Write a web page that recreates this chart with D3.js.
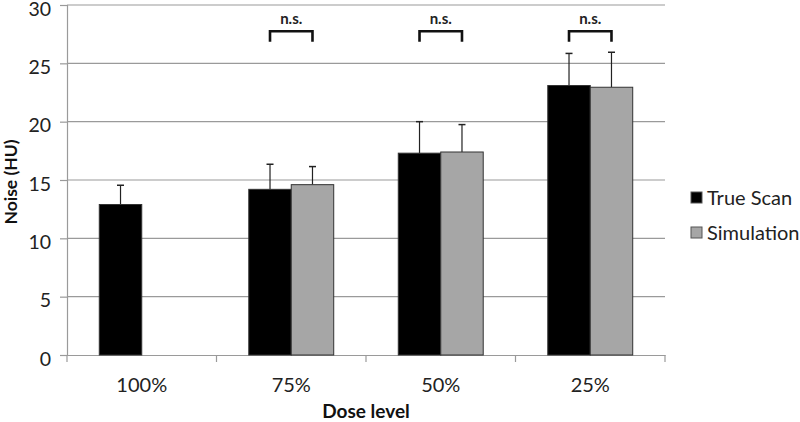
<!DOCTYPE html>
<html><head><meta charset="utf-8">
<script src="https://cdn.jsdelivr.net/npm/d3@7"></script>
<style>body{margin:0;background:#fff;} svg{display:block;font-family:Lato,"Open Sans",sans-serif;}</style>
</head><body>
<svg id="c" width="800" height="422"></svg>
<script>
const categories = ["100%", "75%", "50%", "25%"];
const seriesNames = ["True Scan", "Simulation"];
const trueScan = [12.9, 14.2, 17.3, 23.1];
const trueScanErr = [1.65, 2.15, 2.7, 2.75];
const simulation = [null, 14.6, 17.4, 22.95];
const simulationErr = [null, 1.55, 2.35, 3.0];
const yTicks = [0, 5, 10, 15, 20, 25, 30];
const sigLabels = [null, "n.s.", "n.s.", "n.s."];

const svg = d3.select("#c");
const m = {l: 67, r: 665, t: 5, b: 355};
const x = d3.scaleBand().domain(categories).range([m.l, m.r]).paddingInner(0).paddingOuter(0);
const x1 = d3.scaleBand().domain(seriesNames).range([0, x.bandwidth()]).paddingOuter(0.76).paddingInner(0);
const y = d3.scaleLinear().domain([0, 30]).range([m.b, m.t]);
const colors = {"True Scan": "#000000", "Simulation": "#a6a6a6"};

// gridlines
svg.append("g").selectAll("line").data(yTicks.filter(d => d > 0)).join("line")
  .attr("x1", m.l).attr("x2", m.r).attr("y1", d => y(d)).attr("y2", d => y(d))
  .attr("stroke", "#9a9a9a").attr("stroke-width", 1.2);

// y axis
const ya = svg.append("g").attr("transform", `translate(${m.l},0)`)
  .call(d3.axisLeft(y).tickValues(yTicks).tickSize(7).tickPadding(9));
ya.select(".domain").attr("stroke", "#9a9a9a").attr("stroke-width", 1.2);
ya.selectAll(".tick line").attr("stroke", "#9a9a9a").attr("stroke-width", 1.2);
ya.selectAll("text").attr("font-size", 19.5).attr("fill", "#222").attr("font-family", "Lato,sans-serif").attr("dy", "0.52em");

// x axis
const xa = svg.append("g").attr("transform", `translate(0,${m.b})`)
  .call(d3.axisBottom(x).tickSize(0).tickPadding(23));
xa.select(".domain").attr("stroke", "#9a9a9a").attr("stroke-width", 1.2);
xa.selectAll("text").attr("font-size", 20).attr("fill", "#222").attr("font-family", "Lato,sans-serif");
const bounds = categories.map(c => x(c)).concat([m.r]);
svg.append("g").selectAll("line").data(bounds).join("line")
  .attr("x1", d => d).attr("x2", d => d).attr("y1", m.b).attr("y2", m.b + 7)
  .attr("stroke", "#9a9a9a").attr("stroke-width", 1.2);

// bars
const rows = [];
categories.forEach((c, i) => {
  rows.push({c, s: "True Scan", v: trueScan[i], e: trueScanErr[i]});
  rows.push({c, s: "Simulation", v: simulation[i], e: simulationErr[i]});
});
const valid = rows.filter(r => r.v != null);
// error bars (upper only)
const eg = svg.append("g");
valid.forEach(r => {
  const cx = x(r.c) + x1(r.s) + x1.bandwidth() / 2;
  eg.append("line").attr("x1", cx).attr("x2", cx).attr("y1", y(r.v)).attr("y2", y(r.v + r.e))
    .attr("stroke", "#222").attr("stroke-width", 1.2);
  eg.append("line").attr("x1", cx - 3.5).attr("x2", cx + 3.5).attr("y1", y(r.v + r.e)).attr("y2", y(r.v + r.e))
    .attr("stroke", "#222").attr("stroke-width", 1.5);
});
svg.append("g").selectAll("rect").data(valid).join("rect")
  .attr("x", r => x(r.c) + x1(r.s)).attr("width", x1.bandwidth())
  .attr("y", r => y(r.v)).attr("height", r => y(0) - y(r.v))
  .attr("fill", r => colors[r.s]).attr("stroke", "#333").attr("stroke-width", 1);

// significance brackets
const bg = svg.append("g");
categories.forEach((c, i) => {
  if (!sigLabels[i]) return;
  const xa0 = x(c) + x1("True Scan") + x1.bandwidth() / 2;
  const xb0 = x(c) + x1("Simulation") + x1.bandwidth() / 2;
  bg.append("path").attr("d", `M${xa0},${y(26.85)}V${y(27.75)}H${xb0}V${y(26.85)}`)
    .attr("fill", "none").attr("stroke", "#111").attr("stroke-width", 2.6);
  bg.append("text").attr("x", (xa0 + xb0) / 2).attr("y", y(28.37))
    .attr("text-anchor", "middle").attr("font-size", 15).attr("font-weight", "bold").attr("fill", "#222")
    .text(sigLabels[i]);
});

// axis titles
svg.append("text").attr("x", (m.l + m.r) / 2).attr("y", 418).attr("text-anchor", "middle")
  .attr("font-size", 19).attr("font-weight", "bold").attr("fill", "#111").text("Dose level");
svg.append("text").attr("transform", "translate(17,182) rotate(-90)").attr("text-anchor", "middle")
  .attr("font-size", 17.5).attr("font-weight", "bold").attr("fill", "#111").text("Noise (HU)");

// legend
const lg = svg.append("g");
seriesNames.forEach((s, i) => {
  const yy = 192 + i * 35;
  lg.append("rect").attr("x", 691).attr("y", yy).attr("width", 11).attr("height", 11)
    .attr("fill", colors[s]).attr("stroke", "#555").attr("stroke-width", 1);
  lg.append("text").attr("x", 707).attr("y", yy + 13).attr("font-size", 20).attr("fill", "#222").text(s);
});
</script>
</body></html>
